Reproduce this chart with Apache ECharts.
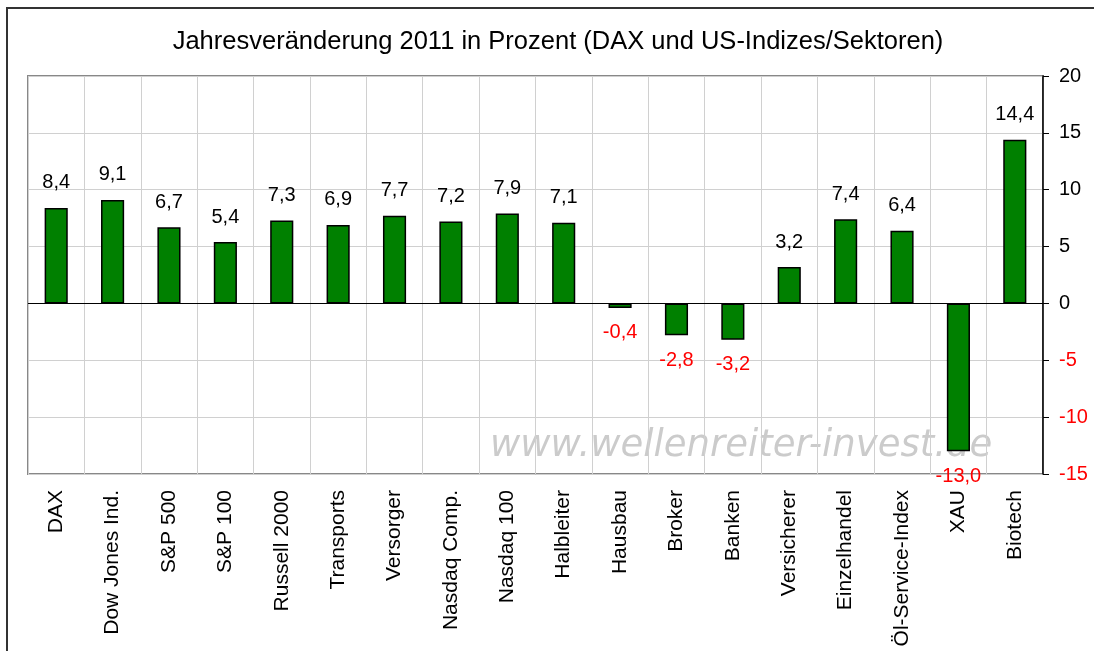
<!DOCTYPE html>
<html>
<head>
<meta charset="utf-8">
<script src="https://cdn.jsdelivr.net/npm/echarts@6/dist/echarts.min.js"></script>
<style>
  html, body { margin: 0; padding: 0; background: #fff; }
  #chart { width: 1094px; height: 651px; }
</style>
</head>
<body>
<div id="chart"></div>
<script>
// Jahresveränderung 2011 in Prozent
const categories = [
  "DAX", "Dow Jones Ind.", "S&P 500", "S&P 100", "Russell 2000", "Transports",
  "Versorger", "Nasdaq Comp.", "Nasdaq 100", "Halbleiter", "Hausbau", "Broker",
  "Banken", "Versicherer", "Einzelhandel", "Öl-Service-Index", "XAU", "Biotech"
];
const changes = [8.4, 9.1, 6.7, 5.4, 7.3, 6.9, 7.7, 7.2, 7.9, 7.1, -0.4, -2.8, -3.2, 3.2, 7.4, 6.4, -13.0, 14.4];
const yTicks = [-15, -10, -5, 0, 5, 10, 15, 20];

const font = "Liberation Sans";
const fmt = (v) => v.toFixed(1).replace(".", ",");

const chart = echarts.init(document.getElementById("chart"));

chart.setOption({
  animation: false,
  graphic: [
    {
      type: "rect",
      shape: { x: 7, y: 8, width: 1200, height: 800 },
      style: { fill: null, stroke: "#333", lineWidth: 2 },
      silent: true
    },
    {
      // title
      type: "text",
      x: 558,
      y: 42,
      style: {
        text: "Jahresveränderung 2011 in Prozent (DAX und US-Indizes/Sektoren)",
        font: "25.5px 'Liberation Sans'",
        fill: "#000",
        textAlign: "center",
        textVerticalAlign: "middle"
      },
      silent: true
    },
    {
      // watermark, sits behind the bars
      type: "text",
      x: 490,
      y: 446,
      z: -10,
      style: {
        text: "www.wellenreiter-invest.de",
        font: "italic 37px 'DejaVu Sans'",
        fill: "#cbcbcb",
        textVerticalAlign: "middle",
        shadowBlur: 3,
        shadowColor: "#d4d4d4"
      },
      silent: true
    }
  ],
  grid: {
    left: 28, top: 76, right: 51, bottom: 177,
    show: true, borderColor: "#888", borderWidth: 2, backgroundColor: "transparent"
  },
  xAxis: {
    type: "category",
    data: categories,
    axisLine: { show: false },
    axisTick: { show: false },
    splitLine: { show: true, lineStyle: { color: "#d0d0d0", width: 1 } },
    axisLabel: {
      rotate: 90,
      margin: 16,
      fontFamily: font,
      fontSize: 21,
      color: "#000",
      interval: 0
    }
  },
  yAxis: {
    type: "value",
    position: "right",
    min: yTicks[0],
    max: yTicks[yTicks.length - 1],
    interval: 5,
    axisLine: { show: true, lineStyle: { color: "#000", width: 1.5 } },
    axisTick: { show: true, length: 6, lineStyle: { color: "#000" } },
    splitLine: { show: true, lineStyle: { color: "#d0d0d0", width: 1 } },
    axisLabel: {
      margin: 16,
      fontFamily: font,
      fontSize: 20,
      color: (v) => (Number(v) < 0 ? "#ff0000" : "#000")
    }
  },
  series: [
    {
      type: "bar",
      barWidth: "41%",
      zlevel: 1,
      data: changes.map((v) => ({
        value: v,
        label: {
          show: true,
          position: v < 0 ? "bottom" : "top",
          distance: 15,
          color: v < 0 ? "#ff0000" : "#000",
          fontFamily: font,
          fontSize: 20,
          formatter: () => fmt(v)
        }
      })),
      itemStyle: { color: "#008000", borderColor: "#000", borderWidth: 1.5 },
      markLine: {
        silent: true,
        symbol: "none",
        label: { show: false },
        lineStyle: { color: "#000", width: 1, type: "solid" },
        data: [{ yAxis: 0 }]
      }
    }
  ]
});
</script>
</body>
</html>
